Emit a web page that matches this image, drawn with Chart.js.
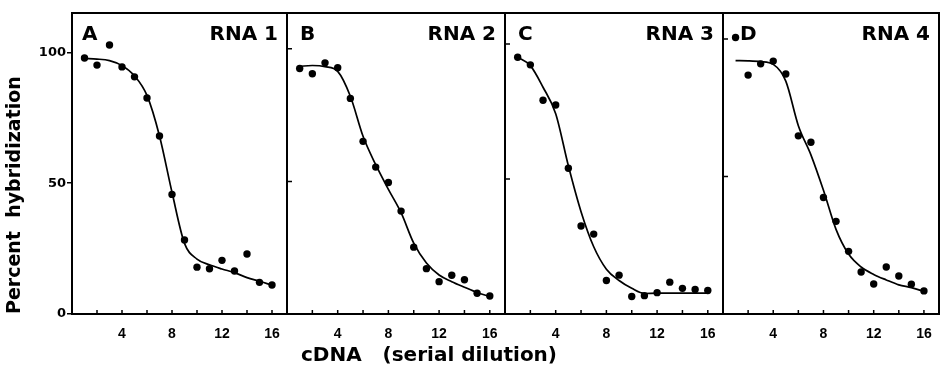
<!DOCTYPE html>
<html>
<head>
<title>Percent hybridization vs cDNA dilution</title>
<script src="https://cdn.jsdelivr.net/npm/chart.js"></script>
<style>
  body { margin: 0; background: #fff; }
  #wrap { position: relative; width: 943px; height: 374px; }
  #wrap canvas { position: absolute; left: 0; top: 0; }
</style>
</head>
<body>
<div id="wrap">
  <canvas id="panel0" width="943" height="374"></canvas>
  <canvas id="panel1" width="943" height="374"></canvas>
  <canvas id="panel2" width="943" height="374"></canvas>
  <canvas id="panel3" width="943" height="374"></canvas>
</div>
<script>
// cDNA serial dilution steps
const dilution = [1, 2, 3, 4, 5, 6, 7, 8, 9, 10, 11, 12, 13, 14, 15, 16];

// measured points (percent hybridization)
const rna1Points = [97.8, 95.1, 102.8, 94.4, 90.6, 82.5, 68.0, 45.7, 28.3, 17.9, 17.3, 20.5, 16.4, 22.9, 12.1, 11.1];
const rna2Points = [92.6, 90.6, 94.7, 92.9, 81.3, 65.1, 55.4, 49.6, 38.8, 25.2, 17.1, 12.2, 14.6, 12.9, 7.8, 6.8];
const rna3Points = [95.1, 92.3, 79.2, 77.4, 54.0, 32.6, 29.6, 12.4, 14.4, 6.5, 6.8, 7.9, 11.8, 9.5, 9.1, 8.7];
const rna4Points = [100.6, 86.9, 91.0, 92.0, 87.3, 64.8, 62.5, 42.4, 33.7, 22.8, 15.3, 10.9, 17.1, 13.8, 10.8, 8.4];

// hand drawn curves, read at each dilution step
const rna1Curve = [97.6, 97.4, 96.8, 94.9, 91.0, 83.5, 68.0, 46.5, 27.0, 21.0, 18.8, 17.2, 15.8, 13.9, 12.5, 11.0];
const rna2Curve = [93.4, 93.7, 93.3, 91.5, 82.1, 67.0, 56.3, 47.0, 38.2, 26.7, 19.2, 14.7, 12.2, 10.1, 8.1, 6.6];
const rna3Curve = [95.1, 92.0, 84.0, 74.2, 54.9, 37.9, 24.9, 16.6, 12.4, 9.5, 7.6, 7.7, 7.7, 7.7, 7.7, 7.7];
const rna4Curve = [92.2, 92.1, 91.8, 90.8, 84.7, 68.5, 57.9, 45.0, 30.8, 21.8, 17.1, 14.4, 12.4, 10.6, 9.6, 8.2];

const panelLetters = ['A', 'B', 'C', 'D'];
const panelNames = ['RNA 1', 'RNA 2', 'RNA 3', 'RNA 4'];
const xTicks = [2, 4, 6, 8, 10, 12, 14, 16];
const xTickLabels = [4, 8, 12, 16];
const yTicks = [0, 50, 100];
const yMax = [115, 113.5, 111.5, 109.5];  // scanned panels are not quite equal

const pointSets = [rna1Points, rna2Points, rna3Points, rna4Points];
const curveSets = [rna1Curve, rna2Curve, rna3Curve, rna4Curve];

// page layout (pixels)
const W = 943, H = 374, TOP = 13, BOTTOM = 314, XAXIS_H = 24;
const edges = [72, 287, 505, 723, 941];
const letterInset = [10, 13, 13, 17];

const frame = {
  id: 'frame',
  afterDraw(chart, args, opts) {
    const { ctx, chartArea: a, scales: { x, y } } = chart;
    ctx.save();
    ctx.strokeStyle = '#000';
    ctx.lineWidth = 2;
    ctx.strokeRect(a.left, a.top, a.right - a.left, a.bottom - a.top);
    ctx.lineWidth = 1.5;
    ctx.beginPath();
    x.ticks.forEach(t => {
      const px = x.getPixelForValue(t.value);
      ctx.moveTo(px, a.bottom);
      ctx.lineTo(px, a.bottom - 4);
    });
    if (opts.innerY) {
      y.ticks.forEach(t => {
        if (t.value === 0) return;
        const py = y.getPixelForValue(t.value);
        ctx.moveTo(a.left, py);
        ctx.lineTo(a.left + 5, py);
      });
    }
    ctx.stroke();
    ctx.fillStyle = '#000';
    ctx.font = 'bold 20px "DejaVu Sans"';
    ctx.textBaseline = 'alphabetic';
    ctx.textAlign = 'left';
    ctx.fillText(opts.letter, a.left + opts.inset, a.top + 27);
    ctx.textAlign = 'right';
    ctx.fillText(opts.name, a.right - 9, a.top + 27);
    ctx.restore();
  }
};

function makePanel(i) {
  const left = edges[i], right = edges[i + 1];
  const first = i === 0;
  const hasTitle = i === 2;   // carries the shared x title, centred under the figure
  const padLeft = first ? 0 : (hasTitle ? 135 : left - 10);
  const yWidth = left - padLeft;
  const titleH = hasTitle ? 30 : 0;

  new Chart(document.getElementById('panel' + i), {
    type: 'scatter',
    data: {
      datasets: [{
        data: dilution.map((d, k) => ({ x: d, y: pointSets[i][k] })),
        pointRadius: 3.7,
        pointBackgroundColor: '#000',
        pointBorderWidth: 0,
        showLine: false
      }, {
        data: dilution.map((d, k) => ({ x: d, y: curveSets[i][k] })),
        showLine: true,
        pointRadius: 0,
        borderColor: '#000',
        borderWidth: 1.7,
        cubicInterpolationMode: 'monotone'
      }]
    },
    options: {
      responsive: false,
      animation: false,
      devicePixelRatio: 1,
      layout: {
        padding: { left: padLeft, right: W - right, top: TOP, bottom: H - BOTTOM - XAXIS_H - titleH }
      },
      scales: {
        x: {
          type: 'linear',
          min: 0,
          max: 17.2,
          afterFit: s => { s.height = XAXIS_H; },
          afterBuildTicks: s => { s.ticks = xTicks.map(v => ({ value: v })); },
          grid: { display: false },
          border: { display: false },
          ticks: {
            color: '#000',
            padding: 4,
            maxRotation: 0,
            autoSkip: false,
            font: { family: 'Liberation Sans', weight: 'bold', size: 14 },
            callback: v => xTickLabels.includes(v) ? String(v) : ''
          }
        },
        y: {
          min: 0,
          max: yMax[i],
          afterFit: s => { s.width = yWidth; },
          afterBuildTicks: s => { s.ticks = yTicks.map(v => ({ value: v })); },
          grid: { display: first, drawOnChartArea: false, drawTicks: true, tickLength: 5, color: '#000', lineWidth: 1.5 },
          border: { display: false },
          ticks: {
            display: first,
            color: '#000',
            padding: 1,
            font: { family: 'DejaVu Sans', weight: 'bold', size: 13 }
          },
          title: {
            display: first,
            text: 'Percent  hybridization',
            align: 'start',
            color: '#000',
            padding: { top: 4, bottom: 0 },
            font: { family: 'DejaVu Sans', weight: 'bold', size: 19 }
          }
        }
      },
      plugins: {
        legend: { display: false },
        tooltip: { enabled: false },
        title: {
          display: hasTitle,
          position: 'bottom',
          text: 'cDNA   (serial dilution)',
          color: '#000',
          padding: { top: 6, bottom: 0 },
          font: { family: 'DejaVu Sans', weight: 'bold', size: 20 }
        },
        frame: { letter: panelLetters[i], name: panelNames[i], innerY: !first, inset: letterInset[i] }
      }
    },
    plugins: [frame]
  });
}

for (let i = 0; i < 4; i++) makePanel(i);
</script>
</body>
</html>
